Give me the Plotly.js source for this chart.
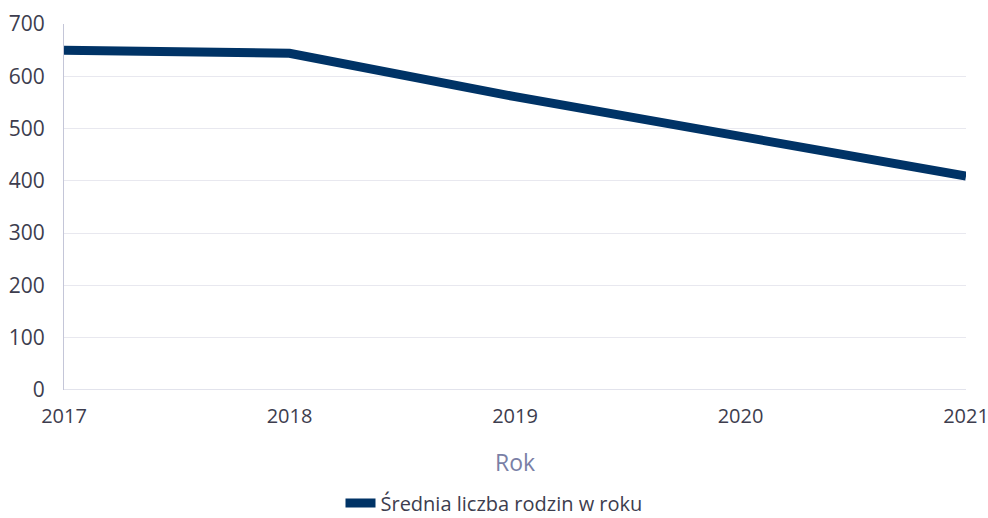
<!DOCTYPE html>
<html>
<head>
<meta charset="utf-8">
<script src="https://cdn.plot.ly/plotly-3.0.1.min.js"></script>
<style>html,body{margin:0;padding:0;background:#fff;}#chart{width:988px;height:518px;}</style>
</head>
<body>
<div id="chart"></div>
<script>
const years = [2017, 2018, 2019, 2020, 2021];
const families = [650, 644, 561, 483, 409];
const seriesName = 'Średnia liczba rodzin w roku';
const xTitle = 'Rok';

const trace = {
  x: years,
  y: families,
  type: 'scatter',
  mode: 'lines',
  name: seriesName,
  line: {color: '#003366', width: 9},
  hoverinfo: 'x+y'
};

const layout = {
  width: 988,
  height: 518,
  margin: {l: 64, r: 22, t: 24, b: 128, autoexpand: false},
  paper_bgcolor: '#ffffff',
  plot_bgcolor: '#ffffff',
  font: {family: '"Open Sans", sans-serif', size: 20, color: '#3d3d4e'},
  showlegend: true,
  legend: {
    orientation: 'h',
    x: 0.5, xanchor: 'center', xref: 'container',
    y: 15 / 518, yanchor: 'middle', yref: 'container',
    font: {size: 20, color: '#3d3d4e'},
    itemwidth: 30
  },
  xaxis: {
    range: [2017, 2021],
    tickmode: 'array',
    tickvals: years,
    ticktext: years.map(String),
    showgrid: false,
    zeroline: false,
    showline: false,
    ticks: '',
    tickfont: {size: 20, color: '#3d3d4e'},
    ticklabelstandoff: 12,
    ticklabeloverflow: 'allow',
    title: {text: xTitle, font: {size: 23, color: '#7a7fa6'}, standoff: 26}
  },
  yaxis: {
    range: [0, 700],
    dtick: 100,
    showgrid: true,
    gridcolor: '#e8e8ef',
    gridwidth: 1,
    zeroline: false,
    showline: true,
    linecolor: '#c4c6d8',
    linewidth: 1,
    ticks: '',
    tickfont: {size: 21, color: '#3d3d4e'},
    ticklabelstandoff: 14,
    ticklabeloverflow: 'allow'
  },
  shapes: [{
    type: 'line', xref: 'paper', yref: 'y',
    x0: 0, x1: 1, y0: 0, y1: 0,
    line: {color: '#c4c6d8', width: 1},
    layer: 'below'
  }]
};

Plotly.newPlot('chart', [trace], layout, {displayModeBar: false, staticPlot: true});
</script>
</body>
</html>
